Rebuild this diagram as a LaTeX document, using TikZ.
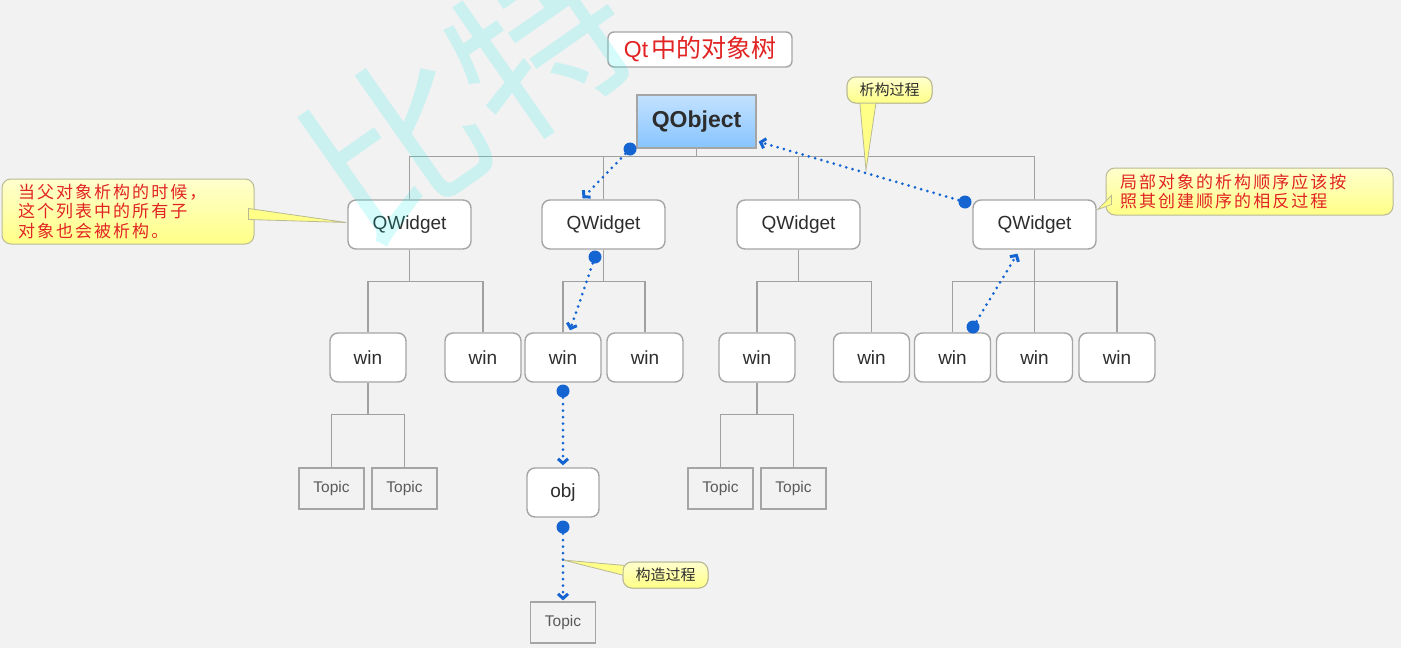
\documentclass[tikz,border=0pt]{standalone}
\usepackage{fontspec}
\setmainfont{Liberation Sans}
\newfontfamily\cjk{Noto Sans CJK SC}
\newfontfamily\cjknote[LetterSpace=12]{Noto Sans CJK SC}
\usetikzlibrary{arrows.meta,calc}

\definecolor{bg}{RGB}{242,242,242}
\definecolor{boxgray}{RGB}{165,165,165}
\definecolor{linegray}{RGB}{160,160,160}
\definecolor{txt}{RGB}{45,45,45}
\definecolor{topictxt}{RGB}{90,90,90}
\definecolor{flowblue}{RGB}{20,100,210}
\definecolor{notered}{RGB}{225,35,35}
\definecolor{noteyellowtop}{RGB}{255,255,205}
\definecolor{noteyellowbot}{RGB}{255,255,135}
\definecolor{noteborder}{RGB}{185,185,150}
\definecolor{qtop}{RGB}{195,226,255}
\definecolor{qbot}{RGB}{135,196,255}
\definecolor{markcyan}{RGB}{0,235,235}

\tikzset{
  box/.style={draw=boxgray, line width=1.4pt, fill=white, rounded corners=8pt,
    inner sep=0pt, text=txt, font=\fontsize{19}{22}\selectfont},
  widget/.style={box, minimum width=123pt, minimum height=49pt},
  winbox/.style={box, minimum width=76pt, minimum height=49pt},
  topic/.style={draw=boxgray, line width=1.2pt, fill=bg, inner sep=0pt,
    minimum width=65pt, minimum height=41pt, text=topictxt,
    font=\fontsize{15.5}{18}\selectfont},
  tree/.style={draw=linegray, line width=1.3pt},
  flow/.style={draw=flowblue, line width=3pt, line cap=round,
    dash pattern=on 0pt off 6.5pt,
    -{Straight Barb[length=4.5pt,width=10pt]}},
  dot/.style={circle, fill=flowblue, inner sep=0pt, minimum size=13pt},
  note/.style={draw=noteborder, line width=1pt, rounded corners=9pt,
    top color=noteyellowtop, bottom color=noteyellowbot, inner sep=0pt},
  wedge/.style={draw=noteborder, line width=0.8pt, fill=noteyellowbot},
  rednote/.style={note, text=notered, align=left,
    font=\cjknote\fontsize{17}{19.5}\selectfont},
  smallnote/.style={note, text=txt, minimum width=85pt, minimum height=26pt,
    font=\cjk\fontsize{15}{17}\selectfont},
}

\begin{document}
\begin{tikzpicture}[x=1pt, y=-1pt]
  % canvas
  \fill[bg] (0,0) rectangle (1401,648);
  \useasboundingbox (0,0) rectangle (1401,648);

  % title
  \node[box, rounded corners=6pt, minimum width=184pt, minimum height=35pt,
        text=notered, font=\fontsize{23}{26}\selectfont] (title) at (700,49.5)
        {Qt\hspace{3pt}{\cjk\fontsize{25}{26}\selectfont 中的对象树}};

  % root
  \node[draw=boxgray, line width=1.4pt, top color=qtop, bottom color=qbot,
        minimum width=119pt, minimum height=53pt, inner sep=0pt, text=txt,
        font=\bfseries\fontsize{23}{26}\selectfont] (qobj) at (696.5,121.5) {QObject};

  % second level
  \node[widget] (qw1) at (409.5,224.5) {QWidget};
  \node[widget] (qw2) at (603.5,224.5) {QWidget};
  \node[widget] (qw3) at (798.5,224.5) {QWidget};
  \node[widget] (qw4) at (1034.5,224.5) {QWidget};

  % third level
  \node[winbox] (w1) at (368,357.5) {win};
  \node[winbox] (w2) at (483,357.5) {win};
  \node[winbox] (w3) at (563,357.5) {win};
  \node[winbox] (w4) at (645,357.5) {win};
  \node[winbox] (w5) at (757,357.5) {win};
  \node[winbox] (w6) at (871.5,357.5) {win};
  \node[winbox] (w7) at (952.5,357.5) {win};
  \node[winbox] (w8) at (1034.5,357.5) {win};
  \node[winbox] (w9) at (1117,357.5) {win};

  % leaves
  \node[topic] (t1) at (331.5,488.5) {Topic};
  \node[topic] (t2) at (404.5,488.5) {Topic};
  \node[topic] (t3) at (720.5,488.5) {Topic};
  \node[topic] (t4) at (793.5,488.5) {Topic};
  \node[winbox, minimum width=72pt] (obj) at (563,492.5) {obj};
  \node[topic] (t5) at (563,622.5) {Topic};

  % tree lines
  \draw[tree] (qobj.south) -- ++(0,8) coordinate (j0);
  \draw[tree] (qw1.north) |- (j0 -| qw4.north) -- (qw4.north);
  \draw[tree] (qw2.north) -- (qw2.north |- j0);
  \draw[tree] (qw3.north) -- (qw3.north |- j0);

  \draw[tree] (qw1.south) -- ++(0,32) coordinate (j1);
  \draw[tree] (w1.north) |- (j1 -| w2.north) -- (w2.north);
  \draw[tree] (qw2.south) -- ++(0,32) coordinate (j2);
  \draw[tree] (w3.north) |- (j2 -| w4.north) -- (w4.north);
  \draw[tree] (qw3.south) -- ++(0,32) coordinate (j3);
  \draw[tree] (w5.north) |- (j3 -| w6.north) -- (w6.north);
  \draw[tree] (qw4.south) -- ++(0,32) coordinate (j4);
  \draw[tree] (w7.north) |- (j4 -| w9.north) -- (w9.north);
  \draw[tree] (w8.north) -- (w8.north |- j4);

  \draw[tree] (w1.south) -- ++(0,32) coordinate (j5);
  \draw[tree] (t1.north) |- (j5 -| t2.north) -- (t2.north);
  \draw[tree] (w5.south) -- ++(0,32) coordinate (j6);
  \draw[tree] (t3.north) |- (j6 -| t4.north) -- (t4.north);

  % callouts
  \coordinate (p1) at (866,170);
  \coordinate (p2) at (563,560);
  \node[smallnote] (n1) at (889.5,90) {析构过程};
  \node[smallnote] (n2) at (665.5,575) {构造过程};
  \draw[wedge] ($(n1.south)+(-30,-4)$) -- (p1) -- ($(n1.south)+(-13,-4)$);
  \draw[wedge] ($(n2.west)+(8,-9)$) -- (p2) -- ($(n2.west)+(8,2)$);
  \node[smallnote] at (n1) {析构过程};
  \node[smallnote] at (n2) {构造过程};

  \node[rednote, minimum width=252pt, minimum height=65pt, text width=220pt,
        inner xsep=16pt] (noteL) at (128,211.5)
        {当父对象析构的时候，\\这个列表中的所有子\\对象也会被析构。};
  \node[rednote, minimum width=287pt, minimum height=47pt, text width=259pt,
        inner xsep=14pt] (noteR) at (1249.5,191.5)
        {局部对象的析构顺序应该按\\照其创建顺序的相反过程};
  \draw[wedge] ($(noteL.east)+(-6,-3)$) -- ($(qw1.west)+(-1,-2)$) -- ($(noteL.east)+(-6,8)$) -- cycle;
  \draw[wedge] ($(noteR.west)+(6,4)$) -- ($(qw4.east)+(1,-15)$) -- ($(noteR.west)+(6,13)$) -- cycle;

  % destruction / construction order
  \node[dot] (d1) at (630,149) {};
  \draw[flow] (d1) -- ($(qw2.north)+(-21,-1)$);
  \node[dot] (d2) at (595,257) {};
  \draw[flow] (d2) -- ($(w3.north)+(7,-2)$);
  \node[dot] (d3) at (563,391) {};
  \draw[flow] (d3) -- ($(obj.north)+(0,-2)$);
  \node[dot] (d4) at (563,527) {};
  \draw[flow] (d4) -- ($(t5.north)+(0,-1)$);
  \node[dot] (d5) at (973,327) {};
  \draw[flow] (d5) -- ($(qw4.south)+(-17,4)$);
  \node[dot] (d6) at (965,202) {};
  \draw[flow] (d6) -- ($(qobj.south east)+(2,-7)$);

  % watermark
  \node[rotate=35, text=markcyan, text opacity=0.16,
        font=\cjk\fontsize{175}{175}\selectfont] (mark) at (468,95) {比特};
\end{tikzpicture}
\end{document}
